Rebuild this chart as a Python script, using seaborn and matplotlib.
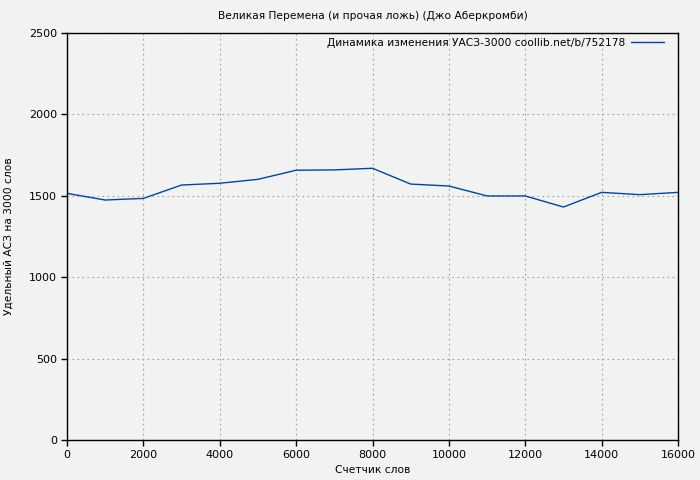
import numpy as np
import pandas as pd
import matplotlib.pyplot as plt
import seaborn as sns

# Values
word_count = [0, 1000, 2000, 3000, 4000, 5000, 6000, 7000, 8000,
              9000, 10000, 11000, 12000, 13000, 14000, 15000, 16000]
asz_per_3000 = [1515, 1474, 1484, 1566, 1577, 1601, 1657, 1659, 1669,
                1572, 1560, 1499, 1499, 1431, 1521, 1507, 1521]

x_ticks = [0, 2000, 4000, 6000, 8000, 10000, 12000, 14000, 16000]
y_ticks = [0, 500, 1000, 1500, 2000, 2500]

df = pd.DataFrame({'words': word_count, 'asz': asz_per_3000})

sns.set_theme(style="ticks")
plt.rcParams['font.family'] = ['DejaVu Sans']
plt.rcParams['font.size'] = 8
plt.rcParams['text.color'] = 'black'
plt.rcParams['axes.labelcolor'] = 'black'

fig = plt.figure(figsize=(7, 4.8), dpi=100, facecolor='#f2f2f2')
ax = fig.add_axes([0.0957, 0.0833, 0.8729, 0.848])
ax.set_facecolor('#f2f2f2')

sns.lineplot(data=df, x='words', y='asz', ax=ax, color='#0044aa', linewidth=1,
             label='Динамика изменения УАСЗ-3000 coollib.net/b/752178')

ax.set_xlim(0, 16000)
ax.set_ylim(0, 2500)
ax.set_xticks(x_ticks)
ax.set_yticks(y_ticks)
ax.grid(True, color='#a0a0a0', linestyle=(0, (1.5, 3)), linewidth=0.8)

for s in ax.spines.values():
    s.set_color('black')
    s.set_linewidth(1)
ax.tick_params(axis='both', direction='out', length=4, width=1, labelsize=8,
               colors='black', pad=3)

ax.set_title('Великая Перемена (и прочая ложь) (Джо Аберкромби)', fontsize=7.7,
             pad=10, color='black')
ax.set_xlabel('Счетчик слов', fontsize=7.7, labelpad=4)
ax.set_ylabel('Удельный АСЗ на 3000 слов', fontsize=7.7, labelpad=11)

leg = ax.legend(loc='upper right', bbox_to_anchor=(0.985, 1.002), frameon=False,
                fontsize=7.7, handlelength=3.0, handletextpad=0.6,
                markerfirst=False, borderaxespad=0.1)

fig.savefig('out.png', dpi=100, facecolor=fig.get_facecolor())
